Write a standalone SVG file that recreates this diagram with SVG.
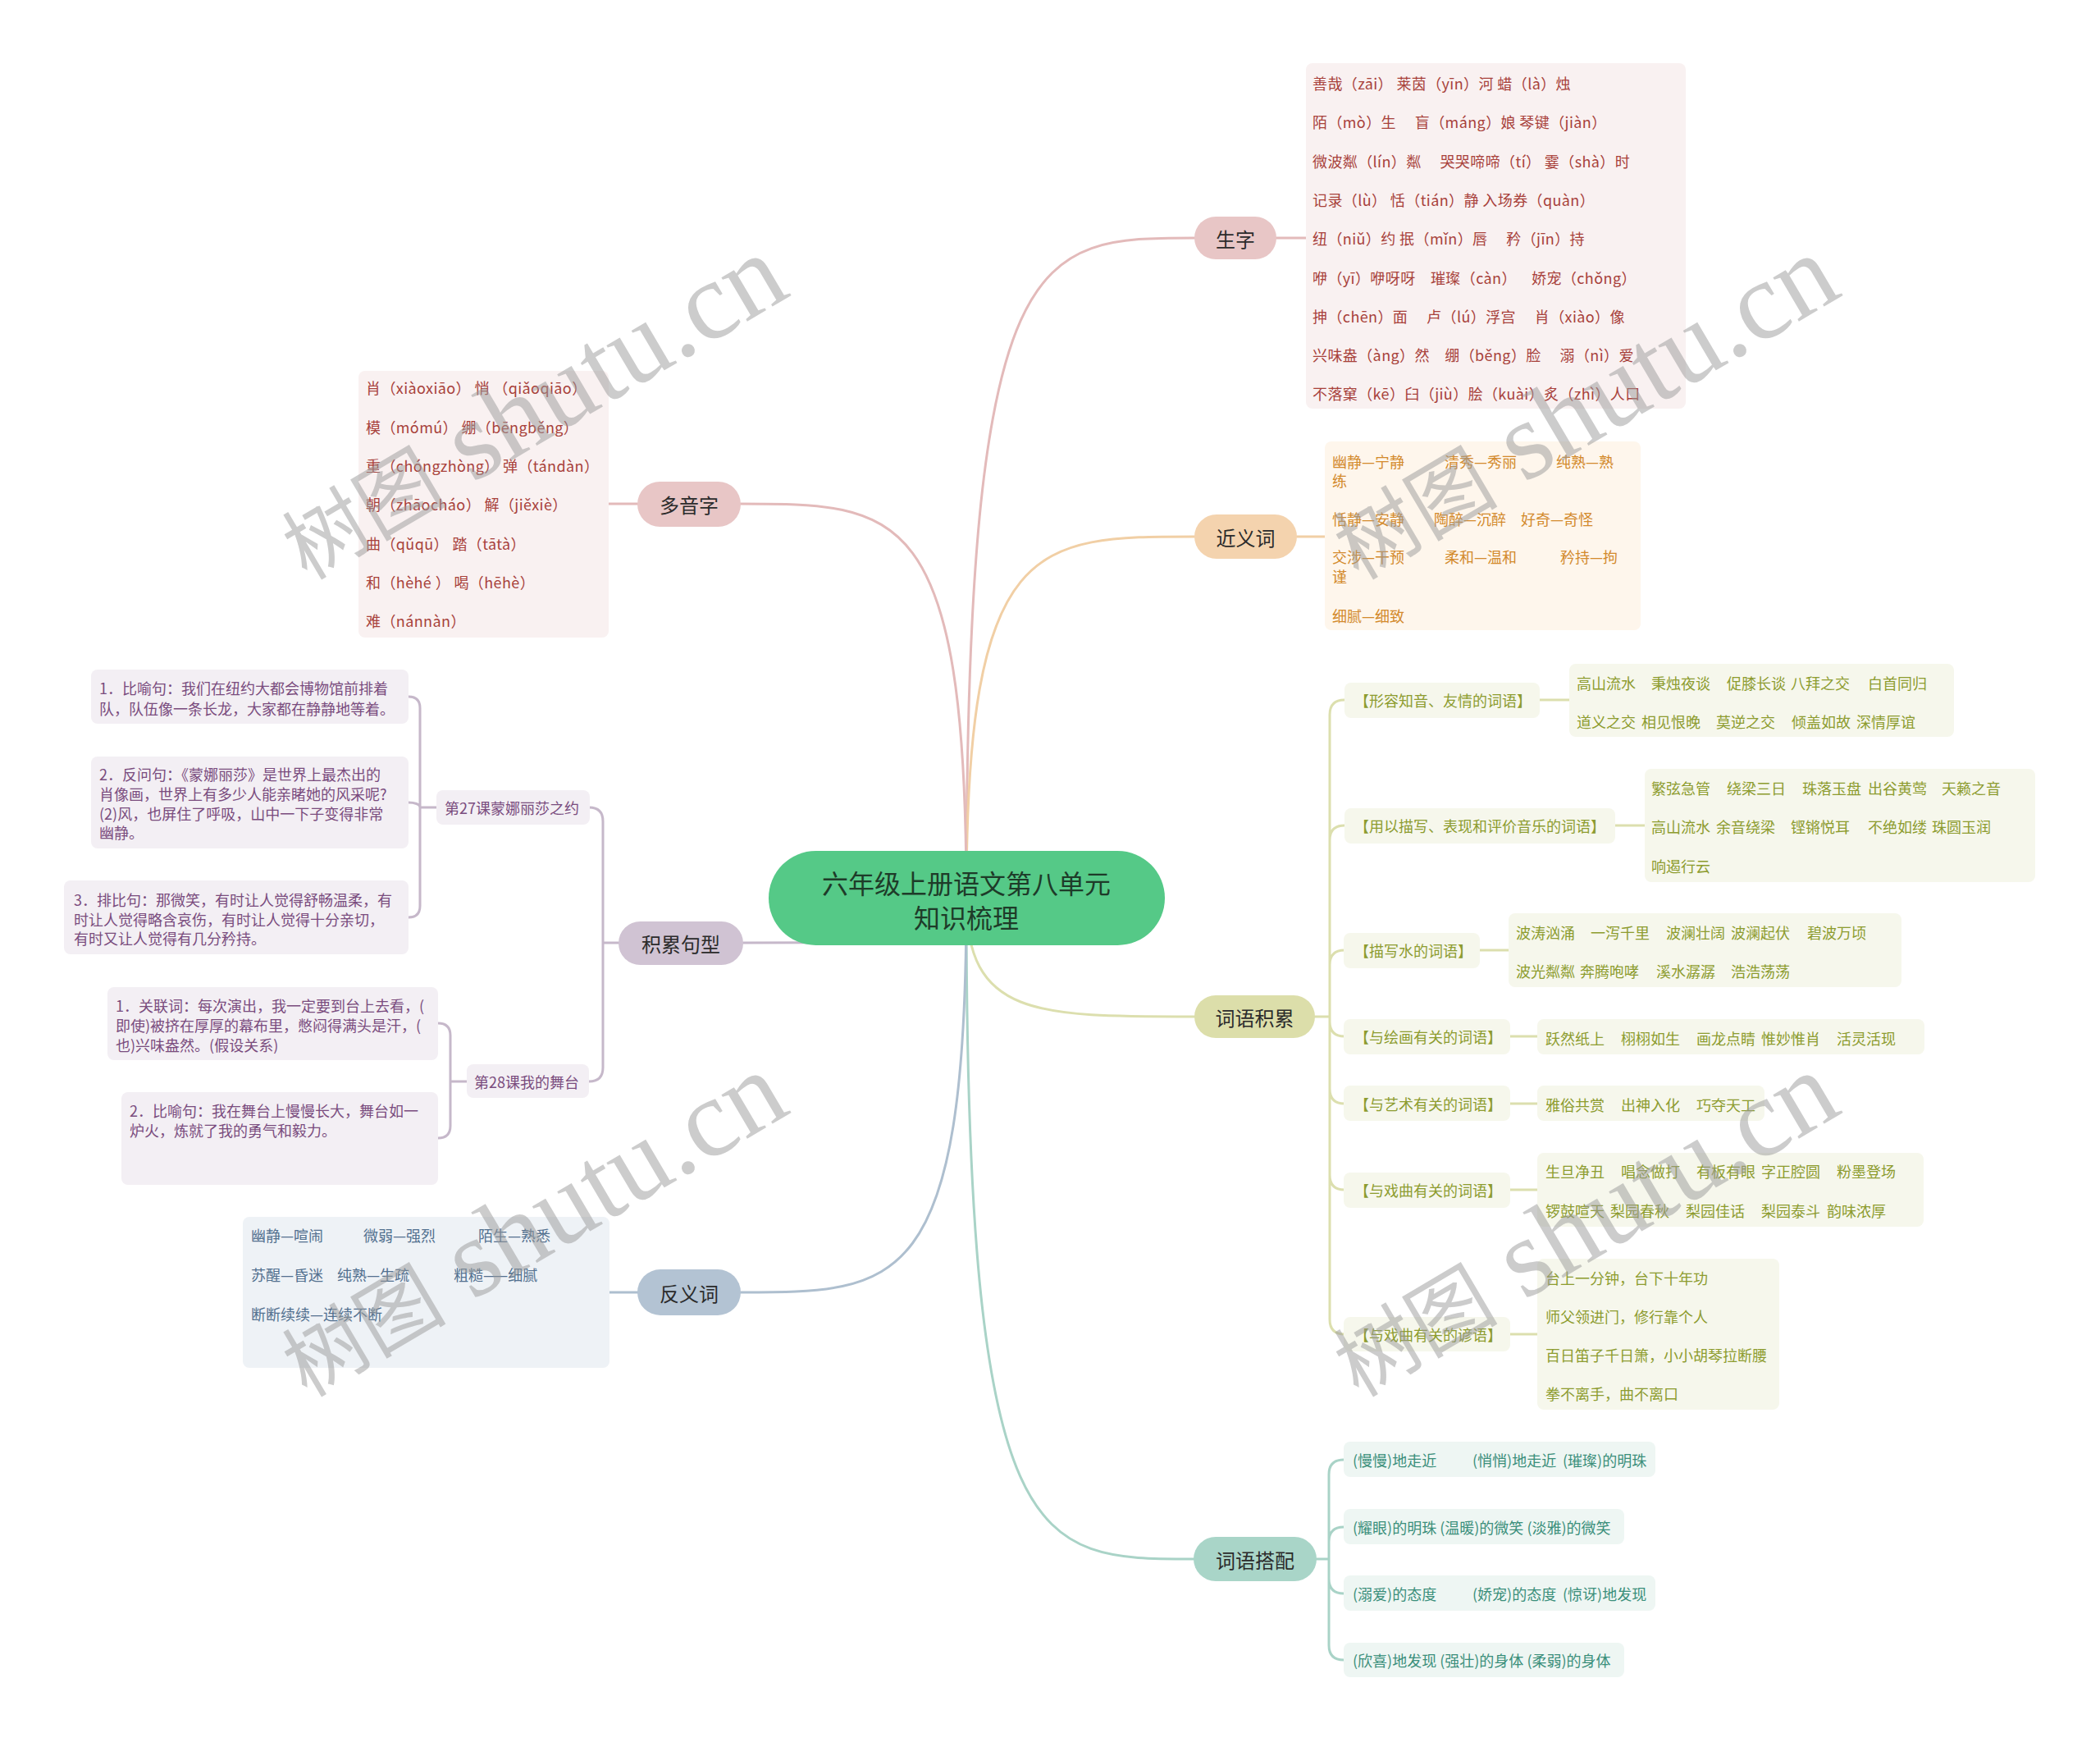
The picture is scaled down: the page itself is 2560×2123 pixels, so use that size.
<svg xmlns="http://www.w3.org/2000/svg" width="2560" height="2123" viewBox="0 0 2560 2123">
<style>
text{font-family:"Noto Sans CJK SC","Noto Sans",sans-serif;font-size:18px;dominant-baseline:central}
.c{font-size:32px;fill:#1e3b29;text-anchor:middle}
.p{font-size:24px;fill:#2b2b2b;text-anchor:middle}
.red{fill:#a8413b;letter-spacing:0.4px}.org{fill:#d38a2c}.olv{fill:#8d9c2f}.teal{fill:#3b8f7b}.pur{fill:#7a4c7e}.blu{fill:#52708f}
.k{fill:none;stroke-width:3;stroke-linecap:round}
.kp{stroke:#e3baba}.ko{stroke:#f1cfa5}.kg{stroke:#dcdfae}.kt{stroke:#a9d3c7}.ku{stroke:#c6b8ca}.kb{stroke:#aebfcf}
.bp{fill:#f9f1f1}.bo{fill:#fef6ec}.bg{fill:#f6f7ec}.bt{fill:#eef6f3}.bu{fill:#f3eff4}.bb{fill:#eef2f6}
.wm{font-family:"Liberation Serif","Noto Sans CJK SC",serif;fill:#9a9a9a;opacity:.5;dominant-baseline:auto}
</style>
<rect width="2560" height="2123" fill="#ffffff"/>
<g id="connectors" class="k">
<path class="k kp" d="M1178,1095 C1178,290 1262,290 1456,290"/>
<path class="k ko" d="M1178,1095 C1178,654 1262,654 1456,654"/>
<path class="k kg" d="M1178,1095 C1178,1239 1262,1239 1456,1239"/>
<path class="k kt" d="M1178,1095 C1178,1900 1261,1900 1455,1900"/>
<path class="k kp" d="M1178,1095 C1178,614 1095,614 903,614"/>
<path class="k ku" d="M1178,1095 C1178,1149 1095,1149 906,1149"/>
<path class="k kb" d="M1178,1095 C1178,1575 1095,1575 903,1575"/>
<path class="k kp" d="M1556,290 H1592"/>
<path class="k ko" d="M1581,654 H1615"/>
<path class="k kp" d="M742,614 H777"/>
<path class="k kb" d="M743,1575 H777"/>
<path class="k kg" d="M1603,1239 H1621 M1621,1239 V871 Q1621,853 1639,853 M1621,1239 V1024 Q1621,1006 1639,1006 M1621,1239 V1176 Q1621,1158 1639,1158 M1621,1239 V1245 Q1621,1263 1639,1263 M1621,1239 V1327 Q1621,1345 1639,1345 M1621,1239 V1432 Q1621,1450 1639,1450 M1621,1239 V1608 Q1621,1626 1639,1626"/>
<path class="k kg" d="M1877,853 H1913 M1969,1006 H2005 M1804,1158 H1839 M1841,1263 H1874 M1841,1345 H1874 M1841,1450 H1874 M1841,1626 H1874"/>
<path class="k kt" d="M1605,1900 H1620 M1620,1900 V1797 Q1620,1779 1638,1779 M1620,1900 V1879 Q1620,1861 1638,1861 M1620,1900 V1924 Q1620,1942 1638,1942 M1620,1900 V2005 Q1620,2023 1638,2023"/>
<path class="k ku" d="M754,1149 H735 M735,1149 V1001 Q735,984 718,984 M735,1149 V1301 Q735,1318 718,1318"/>
<path class="k ku" d="M532,984 H512 M512,984 V863 Q512,849 498,849 M512,984 C512,980 505,978 498,978 M512,984 V1104 Q512,1118 498,1118"/>
<path class="k ku" d="M569,1318 H549 M549,1318 V1262 Q549,1247 534,1247 M549,1318 V1372 Q549,1387 534,1387"/>
</g>
<g id="center">
<rect x="937" y="1037" width="483" height="115" rx="57.5" fill="#55c987"/>
<text class="c" x="1178" y="1075">六年级上册语文第八单元</text>
<text class="c" x="1178" y="1117">知识梳理</text>
</g>
<g id="shengzi">
<rect x="1456" y="264" width="100" height="52" rx="26" fill="#e8c6c6"/>
<text class="p" x="1506" y="290">生字</text>
</g>
<g id="shengzi-list">
<rect class="bp" x="1592" y="77" width="463" height="421" rx="8"/>
<text class="red" x="1600" y="101" xml:space="preserve">善哉（zāi） 莱茵（yīn）河 蜡（là）烛</text>
<text class="red" x="1600" y="148" xml:space="preserve">陌（mò）生　 盲（máng）娘 琴键（jiàn）</text>
<text class="red" x="1600" y="196" xml:space="preserve">微波粼（lín）粼　 哭哭啼啼（tí） 霎（shà）时</text>
<text class="red" x="1600" y="243" xml:space="preserve">记录（lù） 恬（tián）静 入场券（quàn）</text>
<text class="red" x="1600" y="290" xml:space="preserve">纽（niǔ）约 抿（mǐn）唇　 矜（jīn）持</text>
<text class="red" x="1600" y="338" xml:space="preserve">咿（yī）咿呀呀　璀璨（càn）　  娇宠（chǒng）</text>
<text class="red" x="1600" y="385" xml:space="preserve">抻（chēn）面　 卢（lú）浮宫　 肖（xiào）像</text>
<text class="red" x="1600" y="432" xml:space="preserve">兴味盎（àng）然　绷（běng）脸　 溺（nì）爱</text>
<text class="red" x="1600" y="479" xml:space="preserve">不落窠（kē）臼（jiù）脍（kuài）炙（zhì）人口</text>
</g>
<g id="jinyici">
<rect x="1456" y="627" width="125" height="54" rx="27" fill="#f4d3ae"/>
<text class="p" x="1518.5" y="654">近义词</text>
</g>
<g id="jinyici-list">
<rect class="bo" x="1615" y="538" width="385" height="230" rx="8"/>
<text class="org" y="562"><tspan x="1624">幽静—宁静</tspan><tspan x="1761">清秀—秀丽</tspan><tspan x="1897">纯熟—熟</tspan></text>
<text class="org" x="1624" y="585">练</text>
<text class="org" y="632"><tspan x="1624">恬静—安静</tspan><tspan x="1748">陶醉—沉醉</tspan><tspan x="1854">好奇—奇怪</tspan></text>
<text class="org" y="678"><tspan x="1624">交涉—干预</tspan><tspan x="1761">柔和—温和</tspan><tspan x="1902">矜持—拘</tspan></text>
<text class="org" x="1624" y="702">谨</text>
<text class="org" x="1624" y="750">细腻—细致</text>
</g>
<g id="ciyujilei">
<rect x="1456" y="1213" width="147" height="52" rx="26" fill="#dcdeaa"/>
<text class="p" x="1529.5" y="1239">词语积累</text>
</g>
<g id="jl-1">
<rect class="bg" x="1639" y="832" width="238" height="43" rx="8"/>
<text class="olv" x="1651" y="853">【形容知音、友情的词语】</text>
<rect class="bg" x="1913" y="809" width="469" height="89" rx="8"/>
<text class="olv" y="832"><tspan x="1922">高山流水</tspan><tspan x="2013">秉烛夜谈</tspan><tspan x="2105">促膝长谈</tspan><tspan x="2183">八拜之交</tspan><tspan x="2277">白首同归</tspan></text>
<text class="olv" y="879"><tspan x="1922">道义之交</tspan><tspan x="2001">相见恨晚</tspan><tspan x="2092">莫逆之交</tspan><tspan x="2184">倾盖如故</tspan><tspan x="2263">深情厚谊</tspan></text>
</g>
<g id="jl-2">
<rect class="bg" x="1639" y="985" width="330" height="43" rx="8"/>
<text class="olv" x="1651" y="1006">【用以描写、表现和评价音乐的词语】</text>
<rect class="bg" x="2005" y="937" width="476" height="138" rx="8"/>
<text class="olv" y="960"><tspan x="2013">繁弦急管</tspan><tspan x="2105">绕梁三日</tspan><tspan x="2197">珠落玉盘</tspan><tspan x="2277">出谷黄莺</tspan><tspan x="2367">天籁之音</tspan></text>
<text class="olv" y="1007"><tspan x="2013">高山流水</tspan><tspan x="2092">余音绕梁</tspan><tspan x="2183">铿锵悦耳</tspan><tspan x="2277">不绝如缕</tspan><tspan x="2355">珠圆玉润</tspan></text>
<text class="olv" x="2013" y="1055">响遏行云</text>
</g>
<g id="jl-3">
<rect class="bg" x="1638" y="1137" width="166" height="43" rx="8"/>
<text class="olv" x="1651" y="1158">【描写水的词语】</text>
<rect class="bg" x="1839" y="1113" width="479" height="90" rx="8"/>
<text class="olv" y="1136"><tspan x="1848">波涛汹涌</tspan><tspan x="1939">一泻千里</tspan><tspan x="2031">波澜壮阔</tspan><tspan x="2110">波澜起伏</tspan><tspan x="2203">碧波万顷</tspan></text>
<text class="olv" y="1183"><tspan x="1848">波光粼粼</tspan><tspan x="1926">奔腾咆哮</tspan><tspan x="2019">溪水潺潺</tspan><tspan x="2110">浩浩荡荡</tspan></text>
</g>
<g id="jl-4">
<rect class="bg" x="1638" y="1242" width="203" height="43" rx="8"/>
<text class="olv" x="1651" y="1263">【与绘画有关的词语】</text>
<rect class="bg" x="1874" y="1242" width="472" height="43" rx="8"/>
<text class="olv" y="1265"><tspan x="1884">跃然纸上</tspan><tspan x="1976">栩栩如生</tspan><tspan x="2068">画龙点睛</tspan><tspan x="2147">惟妙惟肖</tspan><tspan x="2239">活灵活现</tspan></text>
</g>
<g id="jl-5">
<rect class="bg" x="1638" y="1323" width="203" height="43" rx="8"/>
<text class="olv" x="1651" y="1345">【与艺术有关的词语】</text>
<rect class="bg" x="1874" y="1323" width="277" height="43" rx="8"/>
<text class="olv" y="1346"><tspan x="1884">雅俗共赏</tspan><tspan x="1976">出神入化</tspan><tspan x="2068">巧夺天工</tspan></text>
</g>
<g id="jl-6">
<rect class="bg" x="1638" y="1429" width="203" height="43" rx="8"/>
<text class="olv" x="1651" y="1450">【与戏曲有关的词语】</text>
<rect class="bg" x="1874" y="1405" width="471" height="90" rx="8"/>
<text class="olv" y="1427"><tspan x="1884">生旦净丑</tspan><tspan x="1976">唱念做打</tspan><tspan x="2068">有板有眼</tspan><tspan x="2147">字正腔圆</tspan><tspan x="2239">粉墨登场</tspan></text>
<text class="olv" y="1475"><tspan x="1884">锣鼓喧天</tspan><tspan x="1963">梨园春秋</tspan><tspan x="2055">梨园佳话</tspan><tspan x="2147">梨园泰斗</tspan><tspan x="2227">韵味浓厚</tspan></text>
</g>
<g id="jl-7">
<rect class="bg" x="1638" y="1605" width="203" height="42" rx="8"/>
<text class="olv" x="1651" y="1626">【与戏曲有关的谚语】</text>
<rect class="bg" x="1874" y="1534" width="295" height="184" rx="8"/>
<text class="olv" x="1884" y="1557">台上一分钟，台下十年功</text>
<text class="olv" x="1884" y="1604">师父领进门，修行靠个人</text>
<text class="olv" x="1884" y="1651">百日笛子千日箫，小小胡琴拉断腰</text>
<text class="olv" x="1884" y="1698">拳不离手，曲不离口</text>
</g>
<g id="ciyudapei">
<rect x="1455" y="1873" width="150" height="54" rx="27" fill="#a9d5c8"/>
<text class="p" x="1530" y="1900">词语搭配</text>
</g>
<g id="dp-1">
<rect class="bt" x="1638" y="1757" width="380" height="43" rx="8"/>
<text class="teal" y="1779"><tspan x="1649">(慢慢)地走近</tspan><tspan x="1795">(悄悄)地走近</tspan><tspan x="1905">(璀璨)的明珠</tspan></text>
</g>
<g id="dp-2">
<rect class="bt" x="1638" y="1839" width="342" height="43" rx="8"/>
<text class="teal" x="1649" y="1861" xml:space="preserve">(耀眼)的明珠 (温暖)的微笑 (淡雅)的微笑</text>
</g>
<g id="dp-3">
<rect class="bt" x="1638" y="1920" width="380" height="43" rx="8"/>
<text class="teal" y="1942"><tspan x="1649">(溺爱)的态度</tspan><tspan x="1795">(娇宠)的态度</tspan><tspan x="1905">(惊讶)地发现</tspan></text>
</g>
<g id="dp-4">
<rect class="bt" x="1638" y="2002" width="342" height="42" rx="8"/>
<text class="teal" x="1649" y="2023" xml:space="preserve">(欣喜)地发现 (强壮)的身体 (柔弱)的身体</text>
</g>
<g id="duoyinzi">
<rect x="777" y="587" width="126" height="55" rx="27.5" fill="#e8c6c6"/>
<text class="p" x="840" y="614">多音字</text>
</g>
<g id="duoyinzi-list">
<rect class="bp" x="437" y="452" width="305" height="325" rx="8"/>
<text class="red" x="446" y="472" xml:space="preserve">肖（xiàoxiāo） 悄 （qiǎoqiāo）</text>
<text class="red" x="446" y="520" xml:space="preserve">模（mómú） 绷（bēngběng）</text>
<text class="red" x="446" y="567" xml:space="preserve">重（chóngzhòng） 弹（tándàn）</text>
<text class="red" x="446" y="614" xml:space="preserve">朝（zhāocháo） 解（jiěxiè）</text>
<text class="red" x="446" y="662" xml:space="preserve">曲（qǔqū） 踏（tātà）</text>
<text class="red" x="446" y="709" xml:space="preserve">和（hèhé ） 喝（hēhè）</text>
<text class="red" x="446" y="756" xml:space="preserve">难（nánnàn）</text>
</g>
<g id="jujixing">
<rect x="754" y="1123" width="152" height="53" rx="26.5" fill="#d0c3d3"/>
<text class="p" x="830" y="1149">积累句型</text>
</g>
<g id="ke27">
<rect class="bu" x="532" y="963" width="187" height="42" rx="8"/>
<text class="pur" x="542" y="984">第27课蒙娜丽莎之约</text>
</g>
<g id="ke27-1">
<rect class="bu" x="111" y="816" width="387" height="66" rx="8"/>
<text class="pur" x="121" y="838">1．比喻句：我们在纽约大都会博物馆前排着</text>
<text class="pur" x="121" y="863">队，队伍像一条长龙，大家都在静静地等着。</text>
</g>
<g id="ke27-2">
<rect class="bu" x="111" y="922" width="387" height="112" rx="8"/>
<text class="pur" x="121" y="943">2．反问句：《蒙娜丽莎》是世界上最杰出的</text>
<text class="pur" x="121" y="967">肖像画，世界上有多少人能亲睹她的风采呢?</text>
<text class="pur" x="121" y="991">(2)风，也屏住了呼吸，山中一下子变得非常</text>
<text class="pur" x="121" y="1014">幽静。</text>
</g>
<g id="ke27-3">
<rect class="bu" x="78" y="1073" width="420" height="90" rx="8"/>
<text class="pur" x="90" y="1096">3．排比句：那微笑，有时让人觉得舒畅温柔，有</text>
<text class="pur" x="90" y="1120">时让人觉得略含哀伤，有时让人觉得十分亲切，</text>
<text class="pur" x="90" y="1143">有时又让人觉得有几分矜持。</text>
</g>
<g id="ke28">
<rect class="bu" x="569" y="1297" width="149" height="41" rx="8"/>
<text class="pur" x="578" y="1318">第28课我的舞台</text>
</g>
<g id="ke28-1">
<rect class="bu" x="131" y="1203" width="403" height="89" rx="8"/>
<text class="pur" x="141" y="1225">1．关联词：每次演出，我一定要到台上去看，(</text>
<text class="pur" x="141" y="1249">即使)被挤在厚厚的幕布里，憋闷得满头是汗，(</text>
<text class="pur" x="141" y="1273">也)兴味盎然。(假设关系)</text>
</g>
<g id="ke28-2">
<rect class="bu" x="148" y="1331" width="386" height="113" rx="8"/>
<text class="pur" x="158" y="1353">2．比喻句：我在舞台上慢慢长大，舞台如一</text>
<text class="pur" x="158" y="1377">炉火，炼就了我的勇气和毅力。</text>
</g>
<g id="fanyici">
<rect x="777" y="1547" width="126" height="56" rx="28" fill="#b3c3d3"/>
<text class="p" x="840" y="1575">反义词</text>
</g>
<g id="fanyici-list">
<rect class="bb" x="296" y="1483" width="447" height="184" rx="8"/>
<text class="blu" y="1505"><tspan x="306">幽静—喧闹</tspan><tspan x="443">微弱—强烈</tspan><tspan x="583">陌生—熟悉</tspan></text>
<text class="blu" y="1553"><tspan x="306">苏醒—昏迷</tspan><tspan x="411">纯熟—生疏</tspan><tspan x="553">粗糙——细腻</tspan></text>
<text class="blu" x="306" y="1601">断断续续—连续不断</text>
</g>
<g id="watermarks">
<text class="wm" transform="translate(374,708) rotate(-30.5)"><tspan font-size="100">树图</tspan><tspan font-size="135" xml:space="preserve"> shutu.cn</tspan></text>
<text class="wm" transform="translate(1656,708) rotate(-30.5)"><tspan font-size="100">树图</tspan><tspan font-size="135" xml:space="preserve"> shutu.cn</tspan></text>
<text class="wm" transform="translate(374,1704) rotate(-30.5)"><tspan font-size="100">树图</tspan><tspan font-size="135" xml:space="preserve"> shutu.cn</tspan></text>
<text class="wm" transform="translate(1656,1704) rotate(-30.5)"><tspan font-size="100">树图</tspan><tspan font-size="135" xml:space="preserve"> shutu.cn</tspan></text>
</g>
</svg>
